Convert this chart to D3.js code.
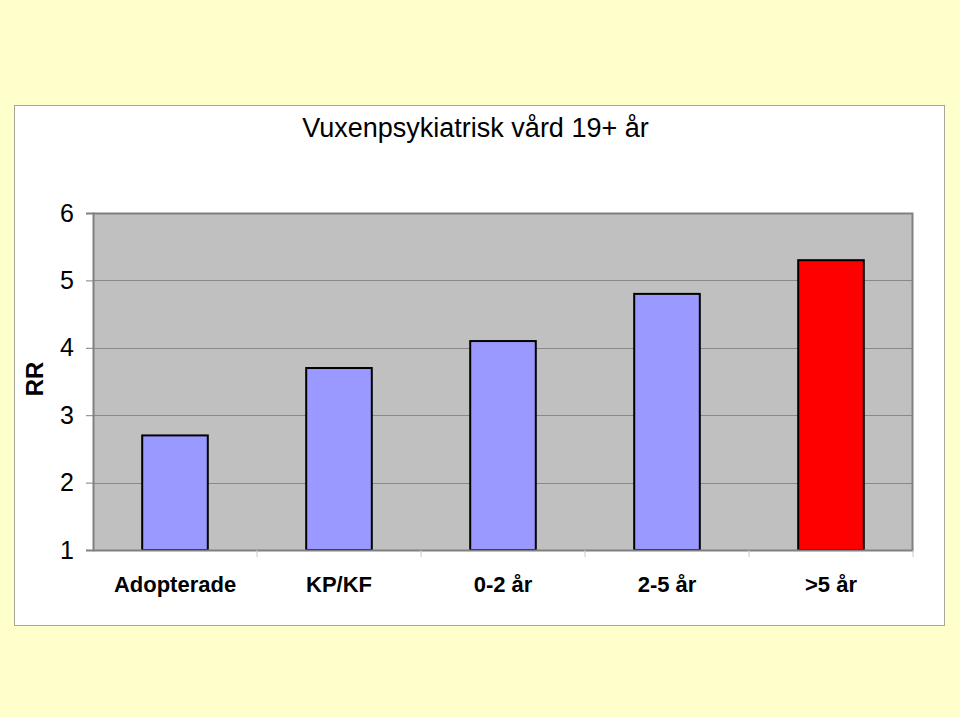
<!DOCTYPE html>
<html><head><meta charset="utf-8">
<script src="https://cdn.jsdelivr.net/npm/d3@7"></script>
<style>html,body{margin:0;padding:0;background:#FFFFCC;}svg{display:block;}</style>
</head><body>
<script>
const categories = ["Adopterade", "KP/KF", "0-2 år", "2-5 år", ">5 år"];
const values = [2.7, 3.7, 4.1, 4.8, 5.3];
const barColors = ["#9999FF", "#9999FF", "#9999FF", "#9999FF", "#FF0000"];
const yTicks = [1, 2, 3, 4, 5, 6];
const title = "Vuxenpsykiatrisk vård 19+ år";
const yLabel = "RR";

const W = 960, H = 717;
const FONT = "Liberation Sans, Arial, sans-serif";
const svg = d3.select("body").append("svg").attr("width", W).attr("height", H);
svg.append("rect").attr("width", W).attr("height", H).attr("fill", "#FFFFCC");
// chart area
svg.append("rect").attr("x", 14.5).attr("y", 105.5).attr("width", 930).attr("height", 520)
  .attr("fill", "#FFFFFF").attr("stroke", "#A6A69A").attr("stroke-width", 1);

const plot = {left: 93, top: 213, right: 913, bottom: 550};
const x = d3.scaleBand().domain(categories).range([plot.left, plot.right]).paddingInner(0.6).paddingOuter(0.3);
const xb = d3.scaleBand().domain(categories).range([plot.left, plot.right]);
const y = d3.scaleLinear().domain([1, 6]).range([plot.bottom, plot.top]);

svg.append("rect").attr("x", plot.left).attr("y", plot.top)
  .attr("width", plot.right - plot.left).attr("height", plot.bottom - plot.top)
  .attr("fill", "#C0C0C0");

// gridlines
svg.append("g").selectAll("line").data(yTicks.slice(1, -1)).join("line")
  .attr("x1", plot.left).attr("x2", plot.right)
  .attr("y1", d => Math.round(y(d)) + 0.5).attr("y2", d => Math.round(y(d)) + 0.5)
  .attr("stroke", "#888888").attr("stroke-width", 1);

// plot border top/right
svg.append("path")
  .attr("d", `M${plot.left},${plot.top + 0.5}H${plot.right - 0.5}V${plot.bottom}`)
  .attr("fill", "none").attr("stroke", "#808080").attr("stroke-width", 2);

// bars
svg.append("g").selectAll("rect").data(values).join("rect")
  .attr("x", (d, i) => x(categories[i]))
  .attr("y", d => y(d))
  .attr("width", x.bandwidth())
  .attr("height", d => y(1) - y(d))
  .attr("fill", (d, i) => barColors[i])
  .attr("stroke", "#000000").attr("stroke-width", 2);

// y axis
const yAxis = d3.axisLeft(y).tickValues(yTicks).tickSize(7).tickPadding(12).tickFormat(d3.format("d"));
const gy = svg.append("g").attr("transform", `translate(${plot.left},0)`).call(yAxis);
gy.select(".domain").attr("stroke", "#808080").attr("stroke-width", 2);
gy.selectAll(".tick line").attr("stroke", "#808080");
gy.selectAll(".tick text").attr("font-family", FONT)
  .attr("font-size", 25).attr("fill", "#000");

// x axis
const xAxis = d3.axisBottom(xb).tickSize(0).tickPadding(0);
const gx = svg.append("g").attr("transform", `translate(0,${plot.bottom})`).call(xAxis);
gx.select(".domain").attr("stroke", "#808080").attr("stroke-width", 2);
gx.selectAll(".tick text").attr("font-family", FONT)
  .attr("font-size", 22).attr("font-weight", "bold").attr("fill", "#000")
  .attr("dy", null).attr("y", 42);
// category boundary ticks
svg.append("g").selectAll("line").data(categories.slice(1).concat(["__end"])).join("line")
  .attr("x1", d => d === "__end" ? plot.right : xb(d))
  .attr("x2", d => d === "__end" ? plot.right : xb(d))
  .attr("y1", plot.bottom).attr("y2", plot.bottom + 7)
  .attr("stroke", "#C8C8C8").attr("stroke-width", 1);

// title
svg.append("text").attr("x", 475.5).attr("y", 137).attr("text-anchor", "middle")
  .attr("font-family", FONT).attr("font-size", 27)
  .attr("fill", "#000").text(title);

// y label
svg.append("text").attr("transform", "translate(43,379) rotate(-90)").attr("text-anchor", "middle")
  .attr("font-family", FONT).attr("font-size", 24)
  .attr("font-weight", "bold").attr("fill", "#000").text(yLabel);
</script>
</body></html>
